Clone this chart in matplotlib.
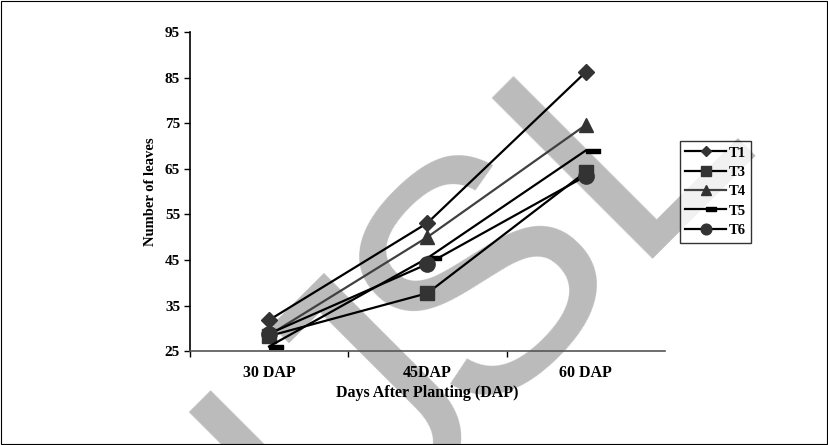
import matplotlib
matplotlib.use("Agg")
import matplotlib.pyplot as plt
from matplotlib.patches import Rectangle

# data
stages = ["30 DAP", "45DAP", "60 DAP"]
t1 = [31.8, 53.1, 86.2]
t3 = [28.3, 37.7, 64.3]
t4 = [28.5, 50.0, 74.6]
t5 = [26.0, 45.4, 69.0]
t6 = [28.8, 44.1, 63.4]
labels = ["T1", "T3", "T4", "T5", "T6"]
yticks = [25, 35, 45, 55, 65, 75, 85, 95]

serif = "Liberation Serif"

fig = plt.figure(figsize=(8.29, 4.45), dpi=100)

# watermark behind the chart (pieces placed one by one so the spacing fits)
wm = dict(fontsize=238, family="Liberation Sans", color="#bbbbbb", rotation=45,
          rotation_mode="anchor", ha="left", va="baseline", zorder=0)
fig.text(0.386, -0.288, "I", **wm)
fig.text(0.4644, -0.191, "J", **wm)
fig.text(0.572, 0.050, "SL", **wm)

# border round the whole picture
fig.patches.append(Rectangle((0.001, 0.002), 0.997, 0.996, transform=fig.transFigure,
                             fill=False, edgecolor="black", linewidth=0.8))

ax = fig.add_axes([0.229, 0.211, 0.573, 0.717])
ax.set_facecolor("none")
ax.set_zorder(2)

x = range(len(stages))
mk = "#333333"
ax.plot(x, t1, color="black", lw=1.6, marker="D", ms=8, mfc=mk, mec=mk, label=labels[0])
ax.plot(x, t3, color="black", lw=1.6, marker="s", ms=10.5, mfc=mk, mec=mk, label=labels[1])
ax.plot(x, t4, color="#404040", lw=1.6, marker="^", ms=10, mfc=mk, mec=mk, label=labels[2])
dash = [(0.0, -0.16), (1.0, -0.16), (1.0, 0.16), (0.0, 0.16), (0.0, -0.16)]
ax.plot(x, t5, color="black", lw=1.6, marker=dash, ms=20, mfc="black", mec="black", label=labels[3])
ax.plot(x, t6, color="black", lw=1.6, marker="o", ms=11, mfc=mk, mec=mk, label=labels[4])

ax.set_xlim(-0.5, 2.5)
ax.set_ylim(25, 95)
ax.set_yticks(yticks)
ax.set_xticks(list(x))
ax.set_xticklabels(stages)
ax.set_xticks([-0.5, 0.5, 1.5], minor=True)
ax.tick_params(axis="x", which="major", length=0, pad=10)
ax.tick_params(axis="x", which="minor", length=4, width=1)
ax.tick_params(axis="y", length=4, width=1, pad=3)
for lab in ax.get_xticklabels():
    lab.set_family(serif)
    lab.set_fontweight("bold")
    lab.set_fontsize(11.5)
for lab in ax.get_yticklabels():
    lab.set_family(serif)
    lab.set_fontweight("bold")
    lab.set_fontsize(11)

for s in ["top", "right"]:
    ax.spines[s].set_visible(False)
ax.spines["left"].set_linewidth(1.2)
ax.spines["bottom"].set_color("#555555")
ax.spines["bottom"].set_linewidth(1.2)

ax.set_xlabel("Days After Planting (DAP)", family=serif, fontweight="bold",
              fontsize=11.5, labelpad=3)
ax.set_ylabel("Number of leaves", family=serif, fontweight="bold", fontsize=10.5, labelpad=6)

leg = ax.legend(loc="upper left", bbox_to_anchor=(1.031, 0.66), frameon=True,
                fancybox=False, edgecolor="black", handlelength=2.8, markerscale=0.7,
                handletextpad=0.15, labelspacing=0.42, borderpad=0.4, borderaxespad=0,
                prop={"family": serif, "weight": "bold", "size": 10.5})
leg.get_frame().set_linewidth(1.0)

fig.savefig("out.png", dpi=100)
